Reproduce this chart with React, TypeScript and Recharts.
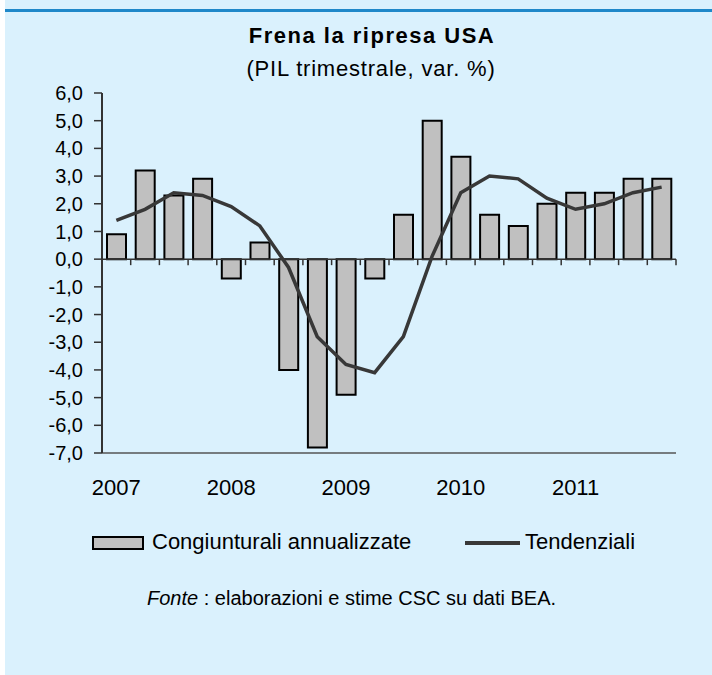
import { ComposedChart, Bar, Line, XAxis, YAxis, ReferenceLine } from 'recharts'

const QUARTERS = [
  '2007 T1', '2007 T2', '2007 T3', '2007 T4',
  '2008 T1', '2008 T2', '2008 T3', '2008 T4',
  '2009 T1', '2009 T2', '2009 T3', '2009 T4',
  '2010 T1', '2010 T2', '2010 T3', '2010 T4',
  '2011 T1', '2011 T2', '2011 T3', '2011 T4',
]

// var. % congiunturale annualizzata (barre)
const CONGIUNTURALI = [0.9, 3.2, 2.3, 2.9, -0.7, 0.6, -4.0, -6.8, -4.9, -0.7, 1.6, 5.0, 3.7, 1.6, 1.2, 2.0, 2.4, 2.4, 2.9, 2.9]
// var. % tendenziale (linea)
const TENDENZIALI = [1.4, 1.8, 2.4, 2.3, 1.9, 1.2, -0.3, -2.8, -3.8, -4.1, -2.8, 0.1, 2.4, 3.0, 2.9, 2.2, 1.8, 2.0, 2.4, 2.6]

const YEAR_LABELS = ['2007', '2008', '2009', '2010', '2011']
const Y_TICKS = [-7, -6, -5, -4, -3, -2, -1, 0, 1, 2, 3, 4, 5, 6]

const data = QUARTERS.map((q, i) => ({ q, cong: CONGIUNTURALI[i], tend: TENDENZIALI[i] }))

const FONT = "'Liberation Sans', Arial, sans-serif"
const BG = '#DAF1FD'

const YearTick = (props: any) => {
  const { x, y, index } = props
  if (index % 4 !== 0) return <g />
  return (
    <text x={x} y={y + 42} textAnchor="middle" fontSize={22} fill="#000" fontFamily={FONT}>
      {YEAR_LABELS[index / 4]}
    </text>
  )
}

// zero line with the small category ticks hanging below it
const ZeroLine = (props: any) => {
  const { x1, x2, y1 } = props
  const n = QUARTERS.length
  const step = (x2 - x1) / n
  return (
    <g>
      <line x1={x1} x2={x2} y1={y1} y2={y1} stroke="#333" strokeWidth={1.5} />
      {QUARTERS.map((_, k) => (
        <line key={k} x1={x1 + (k + 1) * step} x2={x1 + (k + 1) * step} y1={y1} y2={y1 + 6} stroke="#333" strokeWidth={1.5} />
      ))}
    </g>
  )
}

export default function App() {
  return (
    <div style={{ position: 'absolute', left: 0, top: 0, width: 712, height: 675, background: '#fff', fontFamily: FONT }}>
      <div style={{ position: 'absolute', left: 5, top: 0, right: 0, bottom: 0, background: BG }} />
      <div style={{ position: 'absolute', left: 5, top: 9, right: 0, height: 3, background: '#1F88C9' }} />

      <div style={{ position: 'absolute', left: 372, top: 25, transform: 'translateX(-50%)', whiteSpace: 'nowrap', fontSize: 22, lineHeight: 1, fontWeight: 'bold', letterSpacing: 1.5 }}>
        Frena la ripresa USA
      </div>
      <div style={{ position: 'absolute', left: 371, top: 58, transform: 'translateX(-50%)', whiteSpace: 'nowrap', fontSize: 22, lineHeight: 1, letterSpacing: 0.8 }}>
        (PIL trimestrale, var. %)
      </div>

      <div style={{ position: 'absolute', left: 0, top: 0 }}>
        <ComposedChart width={712} height={520} data={data} margin={{ top: 93, right: 36, left: 0, bottom: 0 }} style={{ fontFamily: FONT }}>
          <XAxis dataKey="q" interval={0} height={67} tickSize={0} tickMargin={0} tickLine={false}
            axisLine={{ stroke: '#555', strokeWidth: 1.5 }} tick={<YearTick />} />
          <XAxis xAxisId="top" dataKey="q" orientation="top" height={0} tick={false} tickLine={false}
            axisLine={{ stroke: '#666', strokeWidth: 1.5 }} />
          <YAxis domain={[-7, 6]} ticks={Y_TICKS} interval={0} width={102} tickSize={8} tickMargin={11}
            tickFormatter={(v: number) => v.toFixed(1).replace('.', ',')}
            tick={{ fontSize: 20, fill: '#000', fontFamily: FONT }}
            tickLine={{ stroke: '#333', strokeWidth: 1.5 }}
            axisLine={{ stroke: '#333', strokeWidth: 2 }} />
          <YAxis yAxisId="right" orientation="right" domain={[-7, 6]} width={0} tick={false} tickLine={false}
            axisLine={{ stroke: '#666', strokeWidth: 1.5 }} />
          <ReferenceLine y={0} shape={<ZeroLine />} />
          <Bar dataKey="cong" barSize={19} fill="#C0C0C0" stroke="#000" strokeWidth={2} isAnimationActive={false} />
          <Line dataKey="tend" type="linear" stroke="#383838" strokeWidth={3.5} dot={false} isAnimationActive={false} />
        </ComposedChart>
      </div>

      {/* legenda */}
      <div style={{ position: 'absolute', left: 92, top: 536, width: 48, height: 10, background: '#C0C0C0', border: '2px solid #000' }} />
      <div style={{ position: 'absolute', left: 152, top: 531, fontSize: 22, lineHeight: 1, whiteSpace: 'nowrap' }}>
        Congiunturali annualizzate
      </div>
      <div style={{ position: 'absolute', left: 465, top: 541, width: 55, height: 3.5, background: '#383838' }} />
      <div style={{ position: 'absolute', left: 525, top: 531, fontSize: 22, lineHeight: 1, whiteSpace: 'nowrap' }}>
        Tendenziali
      </div>

      <div style={{ position: 'absolute', left: 147, top: 588, fontSize: 20, lineHeight: 1, whiteSpace: 'nowrap' }}>
        <i>Fonte</i> : elaborazioni e stime CSC su dati BEA.
      </div>
    </div>
  )
}
